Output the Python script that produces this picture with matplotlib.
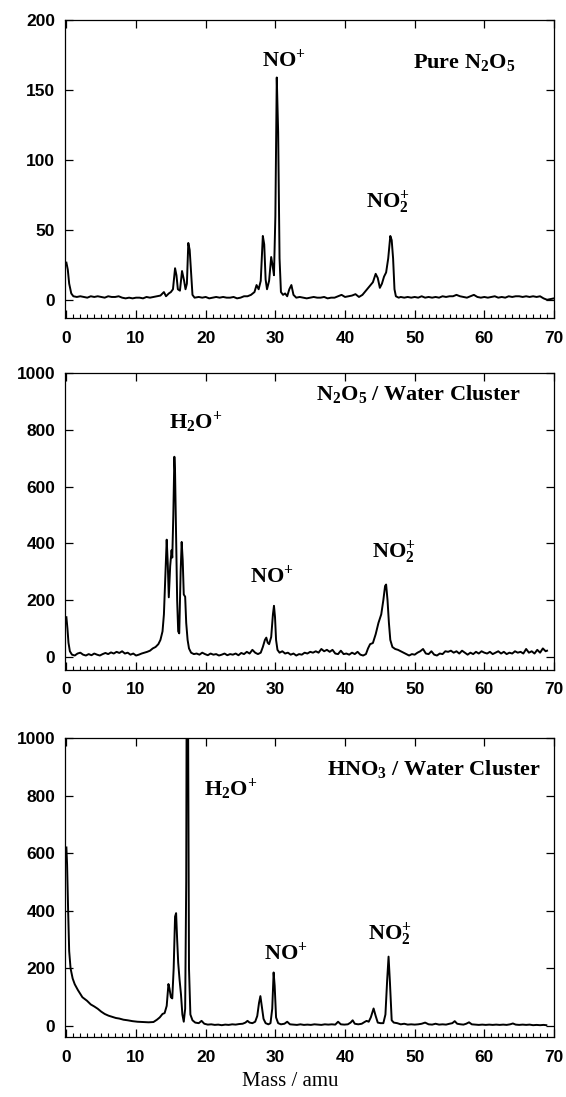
import matplotlib
matplotlib.use("Agg")
import matplotlib.pyplot as plt
from matplotlib.ticker import MultipleLocator

plt.rcParams['mathtext.fontset'] = 'custom'
plt.rcParams['mathtext.bf'] = 'Liberation Serif:bold'
plt.rcParams['mathtext.rm'] = 'Liberation Serif'
plt.rcParams['mathtext.it'] = 'Liberation Serif:italic'

# ---------------- Panel 1: Pure N2O5 ----------------
mass1 = [0.0, 0.2, 0.4, 0.7, 1.0, 1.5, 2.0, 2.5, 3.0, 3.5, 4.0, 4.5, 5.0, 5.5, 6.0, 6.5, 7.0, 7.5,
         8.0, 8.5, 9.0, 9.5, 10.0, 10.5, 11.0, 11.5, 12.0, 12.5, 13.0, 13.5, 14.0, 14.3, 14.7, 15.0,
         15.3, 15.6, 15.8, 16.0, 16.3, 16.6, 16.9, 17.1, 17.3, 17.5, 17.7, 17.9, 18.1, 18.4, 19.0,
         19.5, 20.0, 20.5, 21.0, 21.5, 22.0, 22.5, 23.0, 23.5, 24.0, 24.5, 25.0, 25.5, 26.0, 26.5,
         27.0, 27.3, 27.6, 27.9, 28.2, 28.4, 28.6, 28.8, 29.1, 29.4, 29.6, 29.8, 30.0, 30.2, 30.4,
         30.6, 30.8, 31.1, 31.4, 31.7, 32.0, 32.3, 32.6, 33.0, 33.5, 34.0, 34.5, 35.0, 35.5, 36.0,
         36.5, 37.0, 37.5, 38.0, 38.5, 39.0, 39.5, 40.0, 40.5, 41.0, 41.5, 42.0, 42.5, 43.0, 43.5,
         44.0, 44.4, 44.7, 45.0, 45.3, 45.6, 45.9, 46.2, 46.5, 46.7, 46.9, 47.1, 47.3, 47.7, 48.0,
         48.5, 49.0, 49.5, 50.0, 50.5, 51.0, 51.5, 52.0, 52.5, 53.0, 53.5, 54.0, 54.5, 55.0, 55.5,
         56.0, 56.5, 57.0, 57.5, 58.0, 58.5, 59.0, 59.5, 60.0, 60.5, 61.0, 61.5, 62.0, 62.5, 63.0,
         63.5, 64.0, 64.5, 65.0, 65.5, 66.0, 66.5, 67.0, 67.5, 68.0, 68.5, 69.0, 69.5, 70.0]
signal1 = [27, 22, 12, 5, 3, 2.5, 3, 2.5, 2, 3, 2.5, 3, 2.5, 2, 3, 2.5, 2.5, 3,
           2, 1.5, 2, 1.5, 2, 2, 1.5, 2.5, 2, 2.5, 3, 3.5, 6, 3, 5, 6,
           8, 23, 18, 8, 7, 21, 14, 8, 12, 41, 36, 20, 4, 2, 2.5,
           2, 2.5, 1.5, 2, 2.5, 2, 2.5, 2, 2, 2.5, 1.5, 2, 3, 3, 4,
           6, 11, 8, 14, 46, 40, 15, 8, 14, 31, 25, 18, 60, 159, 120,
           30, 6, 4, 5, 3, 8, 11, 4, 2, 2.5, 2, 1.5, 2, 2.5, 2,
           2, 2.5, 1.5, 2, 2, 3, 4, 2.5, 3, 3.5, 4.5, 2.5, 4, 7, 10,
           13, 19, 16, 9, 12, 17, 20, 30, 46, 43, 30, 8, 3, 2, 2.5,
           2, 2.5, 2, 2.5, 2, 3, 2, 2.5, 2, 2.5, 2, 3, 2.5, 3, 3,
           4, 3, 2.5, 2, 3, 4, 2.5, 2, 2.5, 2, 2.5, 3, 2, 2.5, 2,
           3, 2.5, 3, 3, 2.5, 3, 2.5, 3, 2.5, 3, 1.5, 0.5, 1, 1.5]

# ---------------- Panel 2: N2O5 / Water Cluster ----------------
mass2 = [0.0, 0.15, 0.3, 0.5, 0.8, 1.2, 1.6, 2.0, 2.4, 2.8, 3.2, 3.6, 4.0, 4.4, 4.8, 5.2, 5.6,
         6.0, 6.4, 6.8, 7.2, 7.6, 8.0, 8.4, 8.8, 9.2, 9.6, 10.0, 10.4, 10.8, 11.2, 11.6, 12.0,
         12.4, 12.8, 13.2, 13.5, 13.8, 14.0, 14.2, 14.4, 14.55, 14.7, 14.9, 15.1, 15.2, 15.35,
         15.5, 15.6, 15.75, 15.9, 16.05, 16.2, 16.4, 16.55, 16.7, 16.85, 17.05, 17.2, 17.4, 17.6,
         17.9, 18.3, 18.7, 19.1, 19.5, 19.9, 20.3, 20.7, 21.1, 21.5, 21.9, 22.3, 22.7, 23.1,
         23.5, 23.9, 24.3, 24.7, 25.1, 25.5, 25.9, 26.3, 26.7, 27.1, 27.5, 27.9, 28.2, 28.5,
         28.7, 28.9, 29.1, 29.4, 29.65, 29.8, 29.95, 30.1, 30.3, 30.6, 31.0, 31.4, 31.8, 32.2,
         32.6, 33.0, 33.4, 33.8, 34.2, 34.6, 35.0, 35.4, 35.8, 36.2, 36.6, 37.0, 37.4, 37.8,
         38.2, 38.6, 39.0, 39.4, 39.8, 40.2, 40.6, 41.0, 41.4, 41.8, 42.2, 42.6, 43.0, 43.3,
         43.6, 44.0, 44.4, 44.8, 45.2, 45.5, 45.75, 45.9, 46.1, 46.3, 46.5, 46.8, 47.2, 47.6,
         48.0, 48.4, 48.8, 49.2, 49.6, 50.0, 50.4, 50.8, 51.2, 51.6, 52.0, 52.4, 52.8, 53.2,
         53.6, 54.0, 54.4, 54.8, 55.2, 55.6, 56.0, 56.4, 56.8, 57.2, 57.6, 58.0, 58.4, 58.8,
         59.2, 59.6, 60.0, 60.4, 60.8, 61.2, 61.6, 62.0, 62.4, 62.8, 63.2, 63.6, 64.0, 64.4,
         64.8, 65.2, 65.6, 66.0, 66.4, 66.8, 67.2, 67.6, 68.0, 68.4, 68.8, 69.0]
signal2 = [140, 100, 50, 20, 8, 5, 12, 15, 8, 5, 10, 6, 12, 8, 5, 10, 14,
           10, 16, 12, 18, 14, 20, 12, 15, 8, 12, 5, 8, 12, 15, 18, 22,
           30, 35, 45, 60, 90, 150, 280, 413, 330, 210, 320, 376, 350, 500,
           705, 650, 420, 200, 90, 83, 300, 405, 340, 220, 212, 120, 60, 30,
           15, 10, 12, 8, 15, 10, 6, 12, 8, 10, 5, 8, 12, 6,
           10, 8, 12, 6, 14, 10, 18, 12, 25, 15, 10, 15, 35, 60,
           68, 50, 45, 70, 150, 180, 140, 60, 25, 15, 20, 12, 15, 8,
           12, 5, 10, 8, 15, 12, 18, 15, 20, 15, 28, 20, 25, 18,
           25, 12, 10, 22, 10, 12, 8, 15, 10, 18, 8, 5, 10, 30,
           45, 49, 80, 120, 150, 200, 250, 255, 200, 120, 60, 35, 28, 25,
           20, 15, 10, 5, 10, 8, 15, 20, 28, 12, 10, 20, 8, 5,
           12, 10, 20, 18, 22, 15, 20, 12, 22, 15, 8, 15, 10, 18,
           12, 20, 15, 12, 18, 10, 15, 20, 12, 18, 10, 15, 12, 20,
           15, 18, 12, 28, 15, 20, 12, 25, 15, 30, 20, 22]

# ---------------- Panel 3: HNO3 / Water Cluster ----------------
mass3 = [0.0, 0.1, 0.25, 0.4, 0.6, 0.9, 1.2, 1.65, 2.3, 2.95, 3.5, 4.0, 4.5, 5.0, 5.5, 6.05,
         6.6, 7.1, 7.6, 8.2, 8.8, 9.5, 10.2, 11.0, 11.8, 12.5, 13.0, 13.4, 13.8, 14.1, 14.4,
         14.65, 14.8, 15.0, 15.2, 15.4, 15.6, 15.75, 15.9, 16.05, 16.25, 16.45, 16.65, 16.85,
         17.05, 17.2, 17.3, 17.45, 17.6, 17.8, 18.1, 18.5, 19.0, 19.4, 19.8, 20.3, 20.8, 21.3,
         21.8, 22.3, 22.8, 23.3, 23.8, 24.3, 24.8, 25.3, 25.7, 26.0, 26.3, 26.7, 27.1, 27.4,
         27.65, 27.85, 28.05, 28.3, 28.6, 29.0, 29.3, 29.55, 29.75, 29.9, 30.1, 30.4, 30.8,
         31.3, 31.7, 32.1, 32.6, 33.1, 33.6, 34.1, 34.6, 35.1, 35.6, 36.1, 36.6, 37.1, 37.6,
         38.1, 38.6, 39.0, 39.4, 39.9, 40.4, 40.8, 41.1, 41.4, 41.9, 42.4, 42.8, 43.1, 43.4,
         43.7, 44.1, 44.4, 44.7, 45.1, 45.5, 45.8, 46.05, 46.25, 46.45, 46.7, 47.0, 47.5, 48.0,
         48.5, 49.0, 49.5, 50.0, 50.5, 51.0, 51.5, 52.0, 52.5, 53.0, 53.5, 54.0, 54.5, 55.0,
         55.4, 55.75, 56.1, 56.6, 57.0, 57.4, 57.8, 58.2, 58.7, 59.2, 59.7, 60.2, 60.7, 61.2,
         61.7, 62.2, 62.7, 63.2, 63.7, 64.1, 64.5, 65.0, 65.5, 66.0, 66.5, 67.0, 67.5, 68.0,
         68.5, 68.9]
signal3 = [620, 560, 400, 260, 200, 165, 145, 125, 100, 88, 75, 68, 60, 50, 42, 36,
           32, 28, 26, 22, 20, 17, 15, 14, 13, 14, 22, 30, 42, 45, 70,
           146, 130, 100, 96, 200, 380, 392, 300, 220, 160, 110, 40, 15,
           60, 500, 1500, 1200, 200, 40, 20, 12, 10, 18, 8, 5, 6, 4,
           5, 3, 5, 4, 6, 5, 7, 8, 12, 18, 12, 10, 15, 35,
           80, 104, 70, 25, 10, 6, 10, 60, 186, 140, 30, 10, 6,
           8, 15, 6, 5, 4, 6, 4, 5, 4, 6, 5, 4, 6, 5,
           6, 5, 15, 6, 5, 6, 12, 20, 8, 6, 8, 14, 18, 15,
           30, 61, 35, 12, 10, 10, 40, 160, 241, 150, 20, 12, 10, 6,
           8, 5, 6, 5, 6, 8, 12, 6, 5, 8, 5, 6, 5, 8,
           10, 17, 8, 6, 5, 8, 13, 6, 5, 4, 5, 4, 5, 4,
           5, 4, 5, 4, 6, 9, 5, 4, 5, 4, 5, 3, 4, 3,
           4, 3]

ylims = [(-12.5, 200), (-46, 1000), (-38, 1000)]
yticks = [[0, 50, 100, 150, 200], [0, 200, 400, 600, 800, 1000], [0, 200, 400, 600, 800, 1000]]
xticks = [0, 10, 20, 30, 40, 50, 60, 70]

W, H = 566, 1097
fig = plt.figure(figsize=(W / 100, H / 100), dpi=100)

left = 65 / W
width = (554 - 65) / W
boxes = [(20, 318), (373, 670), (738, 1037)]

data = [(mass1, signal1), (mass2, signal2), (mass3, signal3)]
axes = []
for i, (top, bot) in enumerate(boxes):
    ax = fig.add_axes([left, 1 - bot / H, width, (bot - top) / H])
    m, s = data[i]
    ax.plot(m, s, color='black', lw=1.4)
    ax.set_xlim(-0.2, 70)
    ax.set_ylim(*ylims[i])
    ax.set_xticks(xticks)
    ax.set_yticks(yticks[i])
    ax.xaxis.set_minor_locator(MultipleLocator(1))
    ax.tick_params(which='major', direction='in', length=6, width=0.9,
                   top=True, right=True, labelsize=12.5)
    ax.tick_params(axis='x', which='major', pad=9)
    ax.tick_params(axis='y', which='major', pad=7)
    ax.tick_params(which='minor', direction='in', length=3, width=0.8,
                   top=False, bottom=True, left=False, right=False)
    for lab in ax.get_xticklabels() + ax.get_yticklabels():
        lab.set_fontfamily('Liberation Sans')
        lab.set_fontweight('bold')
    for sp in ax.spines.values():
        sp.set_linewidth(0.9)
    axes.append(ax)

fs = 16
ax1, ax2, ax3 = axes
ax1.text(31.25, 167, r'$\mathbf{NO^{+}}$', ha='center', va='baseline', fontsize=fs)
ax1.text(49.7, 166, r'$\mathbf{Pure\ N_{2}O_{5}}$', ha='left', va='baseline', fontsize=fs)
ax1.text(43.0, 66, r'$\mathbf{NO_{2}^{+}}$', ha='left', va='baseline', fontsize=fs)

ax2.text(35.9, 905, r'$\mathbf{N_{2}O_{5}\ /\ Water\ Cluster}$', ha='left', va='baseline', fontsize=fs)
ax2.text(14.8, 806, r'$\mathbf{H_{2}O^{+}}$', ha='left', va='baseline', fontsize=fs)
ax2.text(26.3, 261, r'$\mathbf{NO^{+}}$', ha='left', va='baseline', fontsize=fs)
ax2.text(43.9, 346, r'$\mathbf{NO_{2}^{+}}$', ha='left', va='baseline', fontsize=fs)

ax3.text(37.4, 870, r'$\mathbf{HNO_{3}\ /\ Water\ Cluster}$', ha='left', va='baseline', fontsize=fs)
ax3.text(19.75, 800, r'$\mathbf{H_{2}O^{+}}$', ha='left', va='baseline', fontsize=fs)
ax3.text(28.3, 232, r'$\mathbf{NO^{+}}$', ha='left', va='baseline', fontsize=fs)
ax3.text(43.3, 297, r'$\mathbf{NO_{2}^{+}}$', ha='left', va='baseline', fontsize=fs)

fig.text(290 / W, 1 - 1082 / H, 'Mass / amu', ha='center', va='center',
         fontsize=15, family='Liberation Serif')

fig.savefig('out.png', dpi=100)
